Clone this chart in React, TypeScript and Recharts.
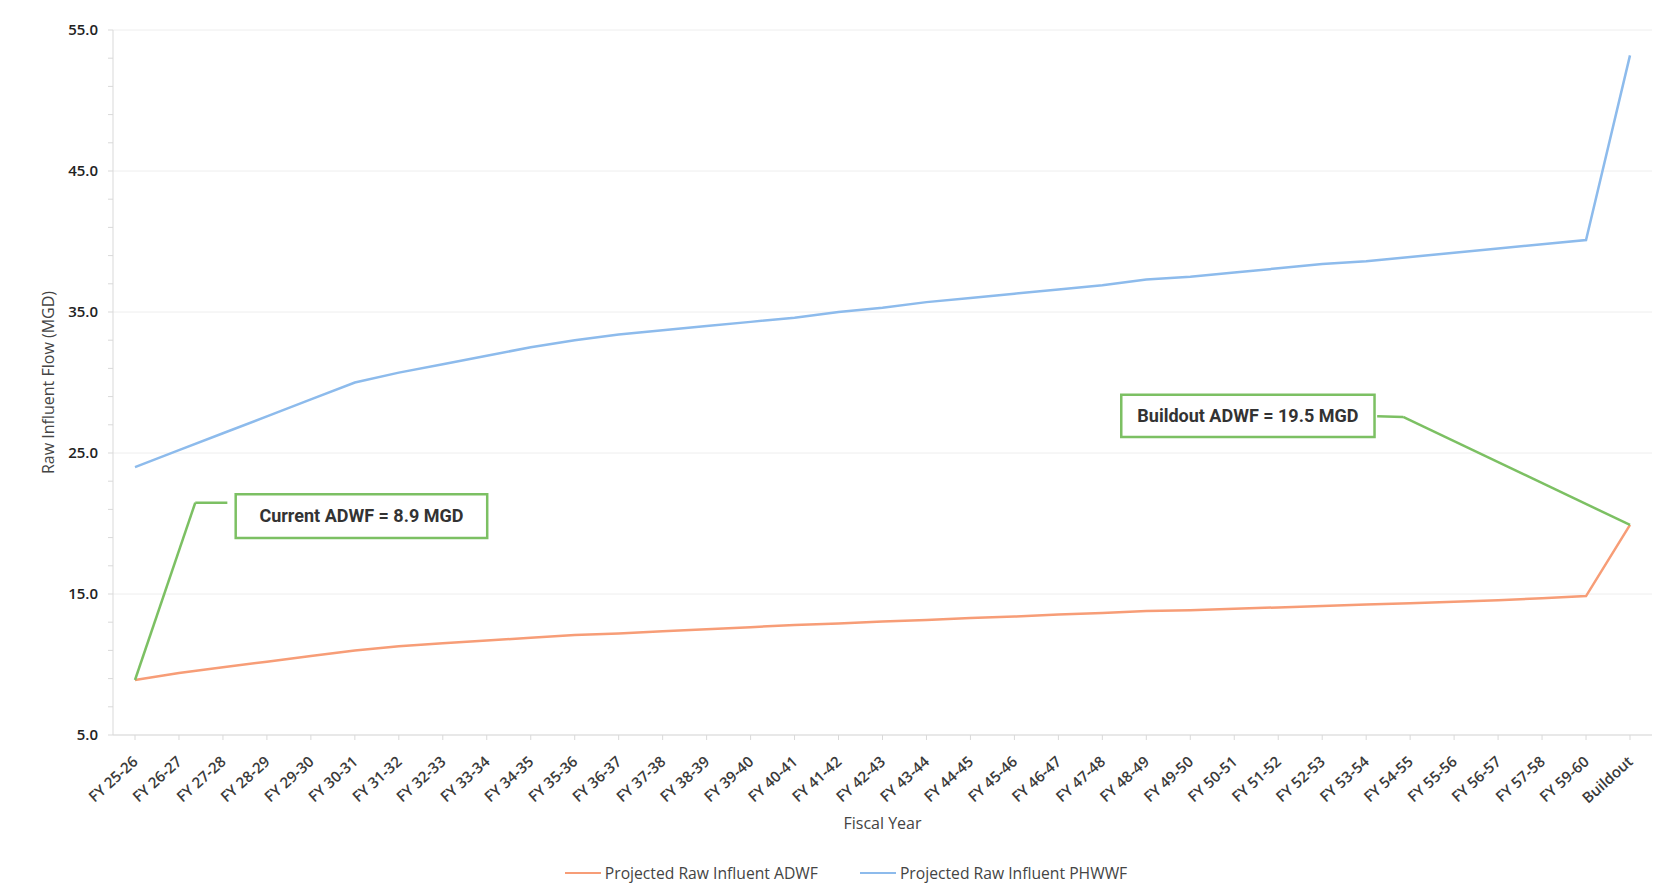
import {
  LineChart,
  Line,
  XAxis,
  YAxis,
  Legend,
  ReferenceLine,
  ReferenceArea,
} from "recharts";

const years = [
  "FY 25-26", "FY 26-27", "FY 27-28", "FY 28-29", "FY 29-30", "FY 30-31",
  "FY 31-32", "FY 32-33", "FY 33-34", "FY 34-35", "FY 35-36", "FY 36-37",
  "FY 37-38", "FY 38-39", "FY 39-40", "FY 40-41", "FY 41-42", "FY 42-43",
  "FY 43-44", "FY 44-45", "FY 45-46", "FY 46-47", "FY 47-48", "FY 48-49",
  "FY 49-50", "FY 50-51", "FY 51-52", "FY 52-53", "FY 53-54", "FY 54-55",
  "FY 55-56", "FY 56-57", "FY 57-58", "FY 59-60", "Buildout",
];

const adwf = [
  8.9, 9.4, 9.8, 10.2, 10.6, 11.0, 11.3, 11.5, 11.7, 11.9, 12.1, 12.2,
  12.35, 12.5, 12.65, 12.8, 12.9, 13.05, 13.15, 13.3, 13.4, 13.55, 13.65,
  13.8, 13.85, 13.95, 14.05, 14.15, 14.25, 14.35, 14.45, 14.55, 14.7, 14.85,
  19.9,
];

const phwwf = [
  24.0, 25.2, 26.4, 27.6, 28.8, 30.0, 30.7, 31.3, 31.9, 32.5, 33.0, 33.4,
  33.7, 34.0, 34.3, 34.6, 35.0, 35.3, 35.7, 36.0, 36.3, 36.6, 36.9, 37.3,
  37.5, 37.8, 38.1, 38.4, 38.6, 38.9, 39.2, 39.5, 39.8, 40.1, 53.2,
];

const yMajor = [5, 15, 25, 35, 45, 55];
const yMinor = [
  5, 7, 9, 11, 13, 15, 17, 19, 21, 23, 25, 27, 29, 31, 33, 35, 37, 39, 41,
  43, 45, 47, 49, 51, 53, 55,
];

// callouts: box [x1, x2, y1, y2] on index/value scale, leader polyline
const callouts = [
  {
    text: "Current ADWF = 8.9 MGD",
    box: [2.29, 8.01, 18.98, 22.07],
    leader: [
      [0, 8.9],
      [1.37, 21.47],
      [2.1, 21.47],
    ],
  },
  {
    text: "Buildout ADWF = 19.5 MGD",
    box: [22.43, 28.19, 26.13, 29.14],
    leader: [
      [28.25, 27.6],
      [28.84, 27.56],
      [34, 19.9],
    ],
  },
];

const data = years.map((y, i) => ({ year: y, adwf: adwf[i], phwwf: phwwf[i] }));

const ORANGE = "#F79D77";
const BLUE = "#8DBBEC";
const GREEN = "#7CC063";
const FONT = "'Open Sans', 'Noto Sans', sans-serif";

function XTick({ x, y, payload }: any) {
  return (
    <g transform={`translate(${x + 4},${y + 21})`}>
      <text
        x={0}
        y={0}
        textAnchor="end"
        transform="rotate(-42)"
        fill="#3a3a3a"
        fontSize={15}
        fontWeight={600}
        fontFamily={FONT}
      >
        {payload.value}
      </text>
    </g>
  );
}

function LegendContent() {
  const items = [
    { name: "Projected Raw Influent ADWF", color: ORANGE },
    { name: "Projected Raw Influent PHWWF", color: BLUE },
  ];
  return (
    <div
      style={{
        display: "flex",
        justifyContent: "center",
        gap: 42,
        fontFamily: FONT,
        fontSize: 15.7,
        color: "#444",
        paddingLeft: 20,
        paddingTop: 2,
      }}
    >
      {items.map((it) => (
        <div key={it.name} style={{ display: "flex", alignItems: "center" }}>
          <span
            style={{
              display: "inline-block",
              width: 36,
              height: 2,
              background: it.color,
              marginRight: 4,
            }}
          />
          {it.name}
        </div>
      ))}
    </div>
  );
}

export default function App() {
  return (
    <div
      style={{
        position: "absolute",
        left: 0,
        top: 0,
        width: 1663,
        height: 896,
        background: "#fff",
      }}
    >
      <LineChart
        width={1663}
        height={896}
        data={data}
        margin={{ top: 30, right: 11, left: 20, bottom: 0 }}
      >
        {yMajor.map((v) => (
          <ReferenceLine key={"g" + v} y={v} stroke="#EEEEEE" />
        ))}
        <XAxis
          dataKey="year"
          interval={0}
          height={125}
          padding={{ left: 22, right: 22 }}
          tick={<XTick />}
          stroke="#D9D9D9"
          tickSize={5}
          label={{
            value: "Fiscal Year",
            position: "insideBottom",
            offset: 31,
            fill: "#444",
            fontSize: 16,
            fontFamily: FONT,
          }}
        />
        <XAxis
          xAxisId="ann"
          type="number"
          domain={[0, 34]}
          padding={{ left: 22, right: 22 }}
          allowDataOverflow
          hide
        />
        <YAxis
          domain={[5, 55]}
          ticks={yMinor}
          interval={0}
          width={93}
          stroke="#D9D9D9"
          tickSize={5}
          tickMargin={10}
          tickFormatter={(v: number) => (yMajor.includes(v) ? v.toFixed(1) : "")}
          tick={{ fill: "#222", fontSize: 15, fontWeight: 600, fontFamily: FONT }}
          label={{
            value: "Raw Influent Flow (MGD)",
            angle: -90,
            position: "insideLeft",
            offset: 28,
            style: { textAnchor: "middle" },
            fill: "#444",
            fontSize: 16,
            fontFamily: FONT,
          }}
        />
        <Legend verticalAlign="bottom" height={36} content={<LegendContent />} />
        <Line
          type="linear"
          dataKey="adwf"
          name="Projected Raw Influent ADWF"
          stroke={ORANGE}
          strokeWidth={2.5}
          dot={false}
          isAnimationActive={false}
        />
        <Line
          type="linear"
          dataKey="phwwf"
          name="Projected Raw Influent PHWWF"
          stroke={BLUE}
          strokeWidth={2.5}
          dot={false}
          isAnimationActive={false}
        />
        {callouts.map((c) =>
          c.leader.slice(1).map((p, i) => (
            <ReferenceLine
              key={c.text + i}
              xAxisId="ann"
              segment={[
                { x: c.leader[i][0], y: c.leader[i][1] },
                { x: p[0], y: p[1] },
              ]}
              stroke={GREEN}
              strokeWidth={2.5}
              ifOverflow="visible"
            />
          ))
        )}
        {callouts.map((c) => (
          <ReferenceArea
            key={c.text}
            xAxisId="ann"
            x1={c.box[0]}
            x2={c.box[1]}
            y1={c.box[2]}
            y2={c.box[3]}
            fill="#fff"
            fillOpacity={1}
            stroke={GREEN}
            strokeWidth={2.5}
            ifOverflow="visible"
            label={{
              value: c.text,
              position: "center",
              fill: "#333",
              fontSize: 18,
              fontWeight: 700,
              fontFamily: "Roboto, sans-serif",
            }}
          />
        ))}
      </LineChart>
    </div>
  );
}
